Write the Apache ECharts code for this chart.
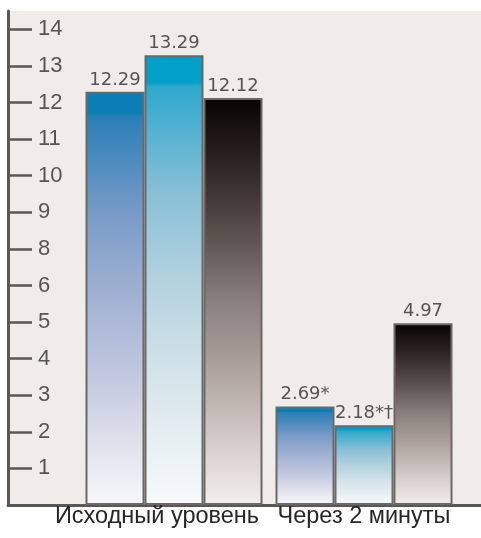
<!DOCTYPE html>
<html>
<head>
<meta charset="utf-8">
<script src="https://cdn.jsdelivr.net/npm/echarts@6/dist/echarts.min.js"></script>
<style>
html,body{margin:0;padding:0;background:#ffffff;}
#chart{width:481px;height:538px;}
</style>
</head>
<body>
<div id="chart"></div>
<script>
// ---- data ----
const categories = ['Исходный уровень', 'Через 2 минуты'];
const seriesNames = ['Серия 1', 'Серия 2', 'Серия 3'];
const valuesA = [12.29, 2.69];
const valuesB = [13.29, 2.18];
const valuesC = [12.12, 4.97];
const labelsA = ['12.29', '2.69*'];
const labelsB = ['13.29', '2.18*†'];
const labelsC = ['12.12', '4.97'];
// tick labels as printed on the original axis (no "7")
const tickLabels = [1, 2, 3, 4, 5, 6, 8, 9, 10, 11, 12, 13, 14];

// axis scale of the original: ticks evenly spaced, labelled by tickLabels
function axisPos(v) {
  const stops = [0].concat(tickLabels);
  for (let i = 0; i < stops.length - 1; i++) {
    if (v <= stops[i + 1]) {
      return i + (v - stops[i]) / (stops[i + 1] - stops[i]);
    }
  }
  const n = stops.length - 1;
  return n + (v - stops[n]) / (stops[n] - stops[n - 1]);
}
const tickPositions = tickLabels.map((t, i) => i + 1);

const axisColor = '#5b5757';
const textColor = '#555555';

function grad(stops) {
  return new echarts.graphic.LinearGradient(0, 0, 0, 1,
    stops.map(s => ({offset: s[0], color: s[1]})));
}
const fills = [
  grad([[0, '#0a7fb5'], [0.05, '#0b7eb5'], [0.06, '#2a7fb7'], [0.3, '#7a9cc7'],
        [0.5, '#a3b2d3'], [0.7, '#c4cae0'], [0.85, '#dfe1ec'], [1, '#f8f8fb']]),
  grad([[0, '#009fc8'], [0.06, '#02a0c8'], [0.07, '#2ea8cd'], [0.3, '#86bfd6'],
        [0.5, '#b3d1de'], [0.7, '#d3e3ea'], [0.85, '#e6eef2'], [1, '#f8fafb']]),
  grad([[0, '#080404'], [0.15, '#2a2220'], [0.35, '#5e5452'], [0.5, '#8a807d'],
        [0.65, '#ab9f9b'], [0.8, '#cbc2bf'], [1, '#f3efed']])
];
const valueSets = [valuesA, valuesB, valuesC];
const labelSets = [labelsA, labelsB, labelsC];

const chart = echarts.init(document.getElementById('chart'), null, {renderer: 'canvas'});
const option = {
  backgroundColor: '#ffffff',
  animation: false,
  grid: [
    {left: 8, right: 0, top: 11, bottom: 33, show: true, backgroundColor: '#f0ece9', borderWidth: 0},
    {left: 79, right: 22, top: 11, bottom: 33}
  ],
  xAxis: [
    {gridIndex: 0, type: 'value', min: 0, max: 1,
     axisLine: {show: true, onZero: false, lineStyle: {color: axisColor, width: 3}},
     axisTick: {show: false}, axisLabel: {show: false}, splitLine: {show: false}},
    {gridIndex: 1, type: 'category',
     data: categories.map((c, i) => i === 0 ? {value: c, textStyle: {padding: [0, 34, 0, 0]}} : c),
     axisLine: {show: false}, axisTick: {show: false}, splitLine: {show: false},
     axisLabel: {interval: 0, hideOverlap: false, margin: 0, color: '#262626',
                 fontSize: 23.5, fontFamily: 'Liberation Sans'}}
  ],
  yAxis: [
    {gridIndex: 0, type: 'value', min: 0, max: 13.5, interval: 1,
     axisLine: {show: true, onZero: false, lineStyle: {color: axisColor, width: 3}},
     axisTick: {show: true, inside: true, length: 24, customValues: tickPositions,
                lineStyle: {color: axisColor, width: 2.5}},
     axisLabel: {inside: true, margin: 30, customValues: tickPositions,
                 formatter: v => String(tickLabels[Math.round(v) - 1]),
                 color: textColor, fontSize: 22, fontFamily: 'Liberation Sans'},
     splitLine: {show: false}},
    {gridIndex: 1, type: 'value', min: 0, max: 13.5, interval: 1, show: false,
     splitLine: {show: false}}
  ],
  series: valueSets.map((vals, k) => ({
    type: 'bar', name: seriesNames[k], xAxisIndex: 1, yAxisIndex: 1,
    barWidth: 59, barGap: '0%',
    data: vals.map(v => axisPos(v)),
    itemStyle: {color: fills[k], borderColor: '#6b6868', borderWidth: 2},
    label: {show: true, position: 'top', distance: 3,
            formatter: p => labelSets[k][p.dataIndex],
            color: textColor, fontSize: 18, fontFamily: 'DejaVu Sans'}
  }))
};
chart.setOption(option);
</script>
</body>
</html>
